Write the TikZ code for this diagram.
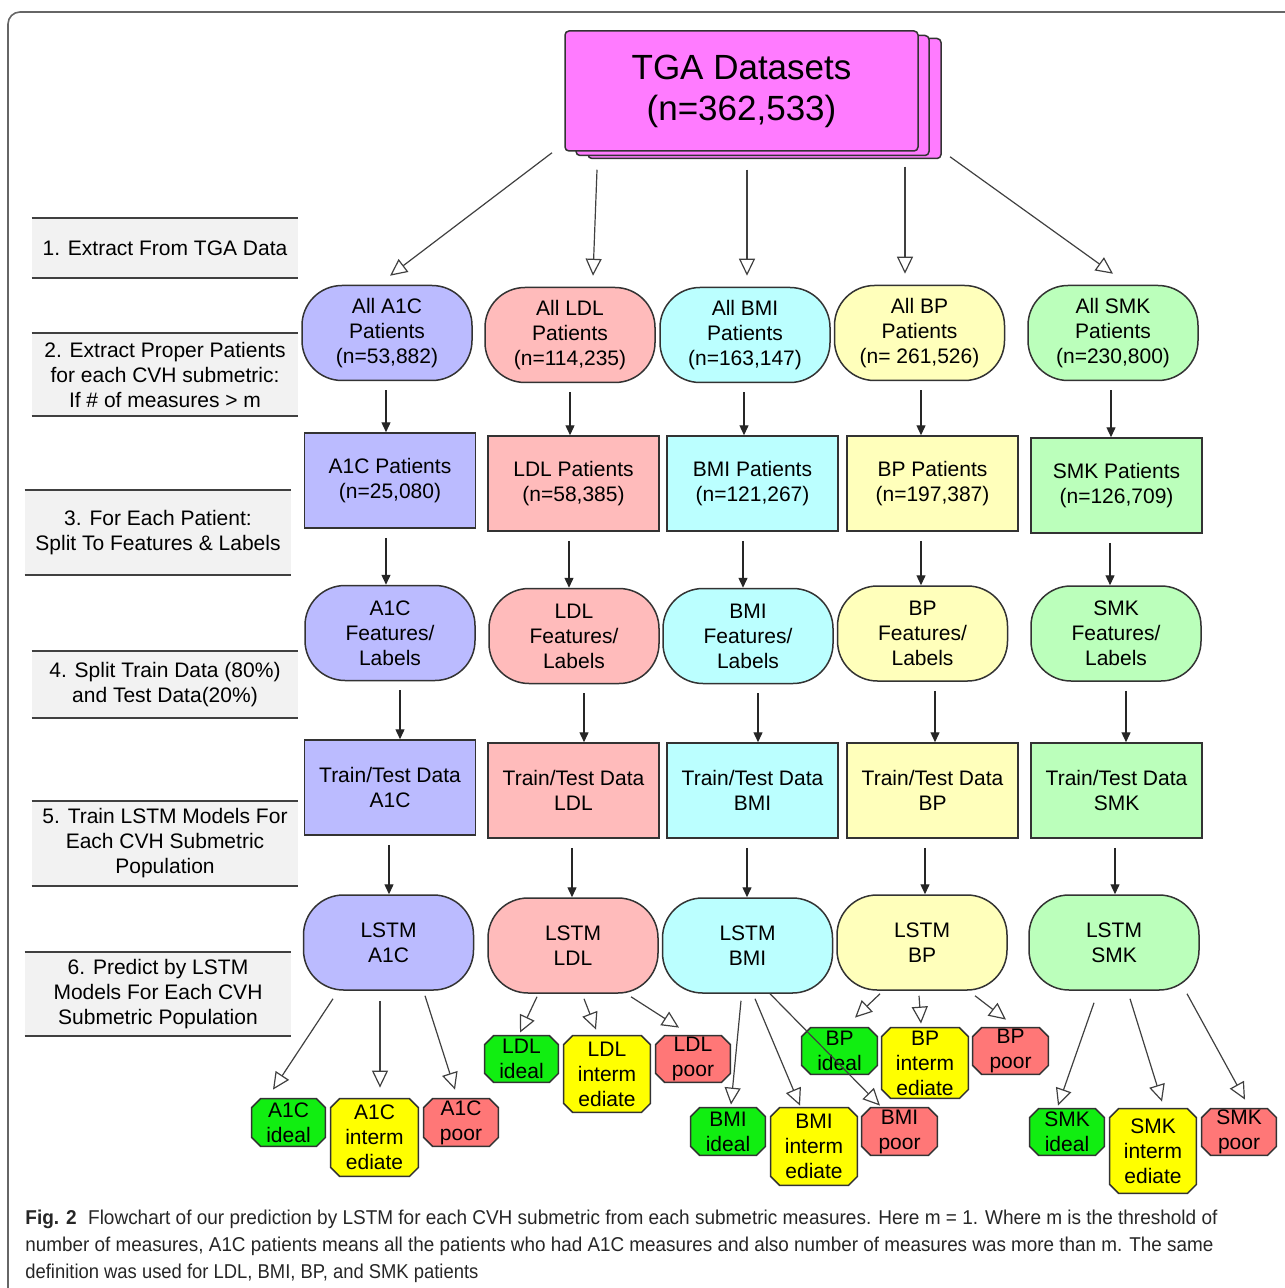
\documentclass[tikz,border=0pt]{standalone}
\usepackage{fontspec}
\setmainfont{Liberation Sans}
\usepackage{graphicx}
\usetikzlibrary{arrows.meta}
\definecolor{cA}{HTML}{BBBBFF}
\definecolor{cL}{HTML}{FFBBBB}
\definecolor{cB}{HTML}{BBFFFF}
\definecolor{cP}{HTML}{FFFFBB}
\definecolor{cS}{HTML}{BBFFBB}
\definecolor{cTGA}{HTML}{FF7BFF}
\definecolor{oGood}{HTML}{11EE11}
\definecolor{oMid}{HTML}{FFFF00}
\definecolor{oBad}{HTML}{FF7777}
\definecolor{stepbg}{HTML}{F2F2F2}
\newcommand\octo[6]{%
  \node[rectangle, minimum width=#3, minimum height=#4, inner sep=0pt] (#1) at (#2) {};
  \filldraw[octline, fill=#5] ([xshift=4.5pt]#1.north west) -- ([xshift=-4.5pt]#1.north east)
    -- ([yshift=-4.5pt]#1.north east) -- ([yshift=4.5pt]#1.south east)
    -- ([xshift=-4.5pt]#1.south east) -- ([xshift=4.5pt]#1.south west)
    -- ([yshift=4.5pt]#1.south west) -- ([yshift=-4.5pt]#1.north west) -- cycle;
  \node[octtext] (#1t) at (#1) {#6};
}
\begin{document}
\begin{tikzpicture}[x=0.5pt,y=-0.5pt,
  base/.style={draw=black!80, line width=0.75pt, align=center, inner sep=0pt, text=black,
    font=\fontsize{10.5}{12.5}\selectfont},
  stad/.style={base, rectangle, rounded corners=20pt, minimum width=85pt, minimum height=47.5pt},
  rbox/.style={base, rectangle, minimum width=85.5pt, minimum height=47.5pt},
  octline/.style={draw=black!80, line width=0.75pt},
  octtext/.style={align=center, inner sep=0pt, text=black, font=\fontsize{10.5}{12.5}\selectfont},
  tgabox/.style={draw=black!80, line width=0.75pt, fill=cTGA, rounded corners=2pt,
    minimum width=176.5pt, minimum height=60pt, inner sep=0pt, align=center,
    font=\fontsize{17.5}{20.5}\selectfont},
  stepband/.style={fill=stepbg, inner sep=0pt, minimum width=133pt, align=center,
    font=\fontsize{10.5}{12.5}\selectfont},
  stepline/.style={draw=black!75, line width=1pt},
  oarr/.style={draw=black!75, line width=0.6pt, -{Triangle[open,length=8.5pt,width=8pt,line width=0.6pt]}},
  sarr/.style={draw=black!85, line width=0.7pt, -{Triangle[length=5pt,width=4.5pt]}, shorten <=4.5pt},
]
\useasboundingbox (0,0) rectangle (1284,1288);
\draw[black!60, line width=0.8pt, rounded corners=6pt] (8,12) rectangle (1310,1320);

% TGA stack
\node[tgabox] (tga3) at (764.5,98.5) {};
\node[tgabox] (tga2) at (752.5,95.5) {};
\node[tgabox] (tga) at (741.5,91) {TGA Datasets\\(n=362,533)};

% step bands
\node[stepband, minimum height=30pt] (s1) at (165,248) {1. Extract From TGA Data};
\node[stepband, minimum height=41.5pt] (s2) at (165,374.5) {2. Extract Proper Patients\\for each CVH submetric:\\If \# of measures > m};
\node[stepband, minimum height=42.5pt] (s3) at (158,532.5) {3. For Each Patient:\\Split To Features \& Labels};
\node[stepband, minimum height=33.5pt] (s4) at (165,684.5) {4. Split Train Data (80\%)\\and Test Data(20\%)};
\node[stepband, minimum height=42.5pt] (s5) at (165,843.5) {5. Train LSTM Models For\\Each CVH Submetric\\Population};
\node[stepband, minimum height=42pt] (s6) at (158,994) {6. Predict by LSTM\\Models For Each CVH\\Submetric Population};
\foreach \s in {s1,s2,s3,s4,s5,s6}{
  \draw[stepline] (\s.north west) -- (\s.north east);
  \draw[stepline] (\s.south west) -- (\s.south east);
}

% Row 1
\node[stad, fill=cA] (a1) at (387,333) {All A1C\\Patients\\(n=53,882)};
\node[stad, fill=cL] (l1) at (570,335) {All LDL\\Patients\\(n=114,235)};
\node[stad, fill=cB] (b1) at (745,335) {All BMI\\Patients\\(n=163,147)};
\node[stad, fill=cP] (p1) at (919.5,333) {All BP\\Patients\\(n= 261,526)};
\node[stad, fill=cS] (k1) at (1113,333) {All SMK\\Patients\\(n=230,800)};
% Row 2
\node[rbox, fill=cA] (a2) at (390,480.5) {A1C Patients\\(n=25,080)};
\node[rbox, fill=cL] (l2) at (573.5,483.5) {LDL Patients\\(n=58,385)};
\node[rbox, fill=cB] (b2) at (752.5,483.5) {BMI Patients\\(n=121,267)};
\node[rbox, fill=cP] (p2) at (932.5,483.5) {BP Patients\\(n=197,387)};
\node[rbox, fill=cS] (k2) at (1116.5,485.5) {SMK Patients\\(n=126,709)};
% Row 3
\node[stad, fill=cA] (a3) at (390,633) {A1C\\Features/\\Labels};
\node[stad, fill=cL] (l3) at (574,636) {LDL\\Features/\\Labels};
\node[stad, fill=cB] (b3) at (748,636) {BMI\\Features/\\Labels};
\node[stad, fill=cP] (p3) at (922.5,633.5) {BP\\Features/\\Labels};
\node[stad, fill=cS] (k3) at (1116,633.5) {SMK\\Features/\\Labels};
% Row 4
\node[rbox, fill=cA] (a4) at (390,787.5) {Train/Test Data\\A1C};
\node[rbox, fill=cL] (l4) at (573.5,790.5) {Train/Test Data\\LDL};
\node[rbox, fill=cB] (b4) at (752.5,790.5) {Train/Test Data\\BMI};
\node[rbox, fill=cP] (p4) at (932.5,790.5) {Train/Test Data\\BP};
\node[rbox, fill=cS] (k4) at (1116.5,790.5) {Train/Test Data\\SMK};
% Row 5
\node[stad, fill=cA] (a5) at (388.5,942.5) {LSTM\\A1C};
\node[stad, fill=cL] (l5) at (573,945.5) {LSTM\\LDL};
\node[stad, fill=cB] (b5) at (747.5,945.5) {LSTM\\BMI};
\node[stad, fill=cP] (p5) at (922,942.5) {LSTM\\BP};
\node[stad, fill=cS] (k5) at (1114,942.5) {LSTM\\SMK};

% Outcomes
\octo{ai}{288.5,1122.5}{36.5pt}{23.5pt}{oGood}{A1C\\ideal}
\octo{am}{374.5,1137.5}{43.5pt}{38.5pt}{oMid}{A1C\\interm\\ediate}
\octo{ap}{461,1122.5}{37pt}{23.5pt}{oBad}{A1C\\poor}
\octo{li}{521.5,1059}{36.5pt}{23pt}{oGood}{LDL\\ideal}
\octo{lm}{607,1074}{43pt}{38pt}{oMid}{LDL\\interm\\ediate}
\octo{lp}{693,1059}{37pt}{23pt}{oBad}{LDL\\poor}
\octo{bi}{728,1131.5}{37pt}{23.5pt}{oGood}{BMI\\ideal}
\octo{bm}{814,1146.5}{43pt}{38.5pt}{oMid}{BMI\\interm\\ediate}
\octo{bp}{899.5,1131.5}{37.5pt}{23.5pt}{oBad}{BMI\\poor}
\octo{pi}{839.5,1051}{37.5pt}{23pt}{oGood}{BP\\ideal}
\octo{pm}{925,1063}{43pt}{35pt}{oMid}{BP\\interm\\ediate}
\octo{pp}{1010.5,1051}{37.5pt}{23pt}{oBad}{BP\\poor}
\octo{ki}{1067,1132}{37pt}{23pt}{oGood}{SMK\\ideal}
\octo{km}{1153,1151}{43pt}{42pt}{oMid}{SMK\\interm\\ediate}
\octo{kp}{1239,1132}{37pt}{23pt}{oBad}{SMK\\poor}

% top arrows
\draw[oarr] ([xshift=-94.75pt,yshift=-0.5pt]tga.south) -- ([xshift=1.5pt,yshift=4.5pt]a1.north);
\draw[oarr] ([xshift=-72.25pt,yshift=-9pt]tga.south) -- ([xshift=11.5pt,yshift=5.5pt]l1.north);
\draw[oarr] ([xshift=2.75pt,yshift=-9pt]tga.south) -- ([xshift=1pt,yshift=5.5pt]b1.north);
\draw[oarr] ([xshift=81.75pt,yshift=-7.5pt]tga.south) -- ([xshift=-7.25pt,yshift=5.5pt]p1.north);
\draw[oarr] ([xshift=104.25pt,yshift=-2.5pt]tga.south) -- ([yshift=5.5pt]k1.north);

% vertical arrows
\newcommand\vlink[4]{\draw[sarr] ([xshift=#3]#1.south) -- ([xshift=#4]#2.north);}
\vlink{a1}{a2}{-0.5pt}{-2pt}
\vlink{a2}{a3}{-2pt}{-2pt}
\vlink{a3}{a4}{5pt}{5pt}
\vlink{a4}{a5}{-0.5pt}{0.25pt}
\vlink{l1}{l2}{0pt}{-1.75pt}
\vlink{l2}{l3}{-2.25pt}{-2.5pt}
\vlink{l3}{l4}{5pt}{5.25pt}
\vlink{l4}{l5}{-0.75pt}{-0.5pt}
\vlink{b1}{b2}{-0.5pt}{-4.25pt}
\vlink{b2}{b3}{-4.75pt}{-2.5pt}
\vlink{b3}{b4}{5pt}{2.75pt}
\vlink{b4}{b5}{-2.75pt}{-0.25pt}
\vlink{p1}{p2}{0.75pt}{-5.75pt}
\vlink{p2}{p3}{-5.75pt}{-0.75pt}
\vlink{p3}{p4}{6.25pt}{1.25pt}
\vlink{p4}{p5}{-3.75pt}{1.5pt}
\vlink{k1}{k2}{-1pt}{-2.75pt}
\vlink{k2}{k3}{-3.25pt}{-3pt}
\vlink{k3}{k4}{5pt}{4.75pt}
\vlink{k4}{k5}{-0.75pt}{0.5pt}

% outcome arrows
\draw[oarr] ([xshift=-27.75pt,yshift=-4pt]a5.south) -- ([xshift=-7.75pt,yshift=4.5pt]ai.north);
\draw[oarr] ([xshift=-4.25pt,yshift=-5pt]a5.south) -- ([xshift=2.75pt,yshift=5.5pt]am.north);
\draw[oarr] ([xshift=18.25pt,yshift=-2.5pt]a5.south) -- ([xshift=-3pt,yshift=4.5pt]ap.north);
\draw[oarr] ([xshift=-18pt,yshift=-1.5pt]l5.south) -- ([xshift=-0.75pt,yshift=1.5pt]li.north);
\draw[oarr] ([xshift=5.5pt,yshift=-2.5pt]l5.south) -- ([xshift=-5.5pt,yshift=3pt]lm.north);
\draw[oarr] ([xshift=29pt,yshift=-1.5pt]l5.south) -- ([xshift=-7pt,yshift=4pt]lp.north);
\draw[oarr] ([xshift=-3.25pt,yshift=-3.5pt]b5.south) -- ([xshift=1.5pt,yshift=1.5pt]bi.north);
\draw[oarr] ([xshift=3.75pt,yshift=-2.5pt]b5.south) -- ([xshift=-7pt,yshift=1pt]bm.north);
\draw[oarr] ([xshift=11.25pt]b5.south) -- ([xshift=-9.75pt,yshift=1pt]bp.north);
\draw[oarr] ([xshift=-21pt,yshift=-1.5pt]p5.south) -- ([xshift=7.75pt,yshift=5pt]pi.north);
\draw[oarr] ([xshift=-1.5pt,yshift=-2.5pt]p5.south) -- ([xshift=-2pt,yshift=2pt]pm.north);
\draw[oarr] ([xshift=26.5pt,yshift=-2.5pt]p5.south) -- ([xshift=-2.25pt,yshift=4pt]pp.north);
\draw[oarr] ([xshift=-10pt,yshift=-6pt]k5.south) -- ([xshift=-4.5pt,yshift=1.5pt]ki.north);
\draw[oarr] ([xshift=8pt,yshift=-4pt]k5.south) -- ([xshift=4.5pt,yshift=3.5pt]km.north);
\draw[oarr] ([xshift=36.5pt,yshift=-1.5pt]k5.south) -- ([xshift=3pt,yshift=4.5pt]kp.north);

% caption
\node[anchor=base west, inner sep=0pt, text=black!85] (cap1) at (25,1224)
 {\resizebox{596pt}{\height}{\fontsize{10}{12}\selectfont\textbf{Fig. 2}\hspace{0.6em}Flowchart of our prediction by LSTM for each CVH submetric from each submetric measures. Here m = 1. Where m is the threshold of}};
\node[anchor=base west, inner sep=0pt, text=black!85] (cap2) at (25,1251)
 {\resizebox{594pt}{\height}{\fontsize{10}{12}\selectfont number of measures, A1C patients means all the patients who had A1C measures and also number of measures was more than m. The same}};
\node[anchor=base west, inner sep=0pt, text=black!85] (cap3) at (25,1278)
 {\resizebox{226.5pt}{\height}{\fontsize{10}{12}\selectfont definition was used for LDL, BMI, BP, and SMK patients}};
\end{tikzpicture}
\end{document}
